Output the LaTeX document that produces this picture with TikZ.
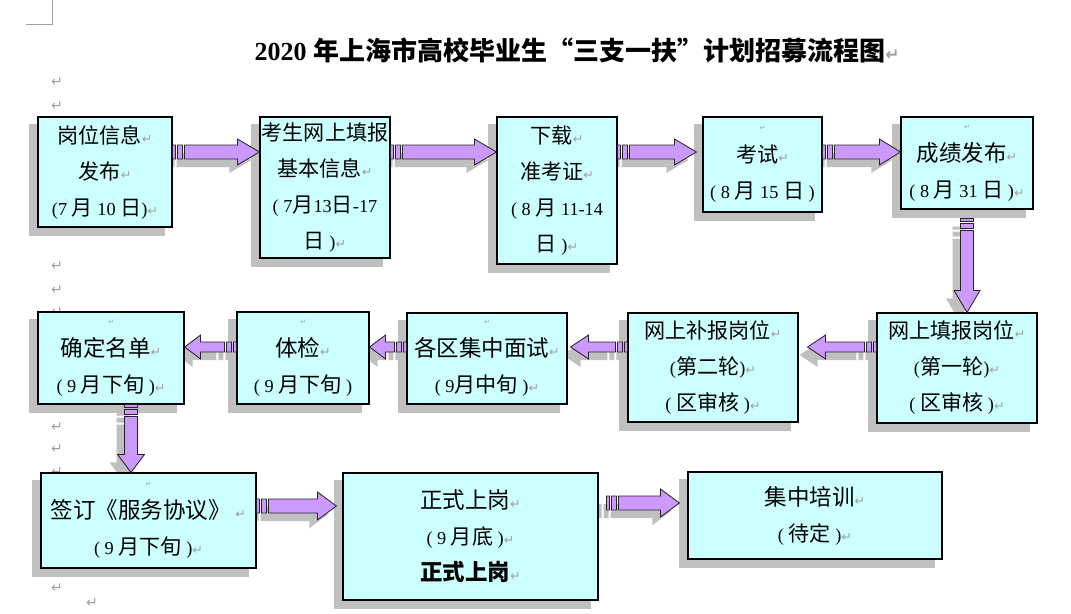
\documentclass[tikz,border=0pt]{standalone}
\usepackage{fontspec}
\setmainfont{Liberation Serif}
\newfontfamily\cjk{Noto Sans CJK SC}
\newfontfamily\markfont{DejaVu Sans}
\usetikzlibrary{calc}

\definecolor{boxcyan}{HTML}{CCFFFF}
\definecolor{arrowpurple}{HTML}{CC99FF}
\definecolor{shadegray}{HTML}{C0C0C0}
\definecolor{markgray}{HTML}{A0A0A0}

\pgfdeclarelayer{background}
\pgfsetlayers{background,main}

\newcommand\px{0.025cm}
\newcommand\rt[1][9]{{\markfont\fontsize{#1}{#1}\selectfont\textcolor{markgray}{↵}}}
\newcommand\lat[1]{{\rmfamily\fontsize{13}{25.6}\selectfont #1}}
\newcommand\hd{\fontsize{16}{25.6}\selectfont}

% striped block arrow: tail, tip, shaft half width, head half width, head length
\newcommand\stripearrow[5]{%
  \coordinate (t0) at (#1);
  \coordinate (t1) at (#2);
  \foreach \d in {0,3,5,10,12} {
    \coordinate (p\d) at ($(t0)!{\d*\px}!(t1)$);
    \coordinate (sa\d) at ($(p\d)!{#3*\px}!90:(t1)$);
    \coordinate (sb\d) at ($(p\d)!{#3*\px}!-90:(t1)$);
  }
  \coordinate (hb) at ($(t1)!{#5*\px}!(t0)$);
  \coordinate (sah) at ($(hb)!{#3*\px}!90:(t1)$);
  \coordinate (sbh) at ($(hb)!{#3*\px}!-90:(t1)$);
  \coordinate (ha) at ($(hb)!{#4*\px}!90:(t1)$);
  \coordinate (hc) at ($(hb)!{#4*\px}!-90:(t1)$);
  \begin{pgfonlayer}{background}
    \fill[arrowshade] (sa0) -- (sa3) -- (sb3) -- (sb0) -- cycle
      (sa5) -- (sa10) -- (sb10) -- (sb5) -- cycle
      (sa12) -- (sah) -- (ha) -- (t1) -- (hc) -- (sbh) -- (sb12) -- cycle;
  \end{pgfonlayer}
  \filldraw[arrowbody] (sa0) -- (sa3) -- (sb3) -- (sb0) -- cycle
    (sa5) -- (sa10) -- (sb10) -- (sb5) -- cycle
    (sa12) -- (sah) -- (ha) -- (t1) -- (hc) -- (sbh) -- (sb12) -- cycle;
}

\begin{document}
\begin{tikzpicture}[x=0.025cm, y=-0.025cm,
  box/.style={draw=black, line width=0.8pt, fill=boxcyan, inner sep=0pt, align=center,
    font=\cjk\fontsize{15}{25.6}\selectfont},
  arrowbody/.style={draw=black!85, line width=0.6pt, fill=arrowpurple},
  arrowshade/.style={fill=shadegray, transform canvas={shift={(-8,8)}}},
  retmark/.style={inner sep=0pt}]
\useasboundingbox (0,0) rectangle (1071,613);

% paragraph marks of the page
\begin{pgfonlayer}{background}
\foreach \y in {82,106,266,290,312,405,427,449,472,588}
  \node[retmark] (left\y) at (57,\y) {\rt[10]};
\node[retmark] (leftlast) at (92,603) {\rt[10]};
\draw[markgray, line width=0.6pt] (52,0) -- (52,24) -- (26,24);
\end{pgfonlayer}

\node[font=\cjk\bfseries\fontsize{18.5}{22}\selectfont] (title) at (577,50)
  {{\rmfamily 2020 }年上海市高校毕业生“三支一扶”计划招募流程图\rt[12]};

% first row
\node[box, minimum width=134*\px, minimum height=110*\px] (post) at (105,172)
  {岗位信息\rt\\发布\rt\\\lat{(7 }月\lat{ 10 }日\lat{)}\rt};
\node[box, minimum width=130*\px, minimum height=141*\px] (apply) at (325,187.5)
  {考生网上填报\\基本信息\rt\\\lat{( 7}月\lat{13}日\lat{-17}\\日\lat{ )}\rt};
\node[box, minimum width=120*\px, minimum height=147*\px] (ticket) at (557,190.5)
  {下载\rt\\准考证\rt\\\lat{( 8 }月\lat{ 11-14}\\日\lat{ )}\rt};
\node[box, minimum width=119*\px, minimum height=95*\px] (exam) at (762.5,164.5)
  {\rt[5]\\[-3pt]考试\rt\\\lat{( 8 }月\lat{ 15 }日\lat{ )}};
\node[box, minimum width=132*\px, minimum height=92*\px] (score) at (967,163)
  {\rt[5]\\[-3pt]{\hd 成绩发布}\rt\\\lat{( 8 }月\lat{ 31 }日\lat{ )}\rt};

% second row
\node[box, minimum width=160*\px, minimum height=110*\px] (fill1) at (957,368)
  {网上填报岗位\rt\\\lat{(}第一轮\lat{)}\rt\\\lat{( }区审核\lat{ )}\rt};
\node[box, minimum width=170*\px, minimum height=109*\px] (fill2) at (713,367.5)
  {网上补报岗位\rt\\\lat{(}第二轮\lat{)}\rt\\\lat{( }区审核\lat{ )}\rt};
\node[box, minimum width=160*\px, minimum height=91*\px] (interview) at (487,358.5)
  {\rt[5]\\[-3pt]{\hd 各区集中面试}\rt\\\lat{( 9}月中旬\lat{ )}\rt};
\node[box, minimum width=132*\px, minimum height=92*\px] (health) at (303,358)
  {\rt[5]\\[-3pt]{\hd 体检}\rt\\\lat{( 9 }月下旬\lat{ )}};
\node[box, minimum width=146*\px, minimum height=92*\px] (namelist) at (111,358)
  {\rt[5]\\[-3pt]{\hd 确定名单}\rt\\\lat{( 9 }月下旬\lat{ )}\rt};

% third row
\node[box, minimum width=215*\px, minimum height=95*\px] (sign) at (148.5,520.5)
  {\rt[5]\\[-3pt]{\hd 签订《服务协议》}\lat{ }\rt\\\lat{( 9 }月下旬\lat{ )}\rt};
\node[box, minimum width=255*\px, minimum height=127*\px] (onduty) at (470.5,536.5)
  {{\hd 正式上岗}\rt\\\lat{( 9 }月底\lat{ )}\rt\\{\hd\bfseries 正式上岗}\rt};
\node[box, minimum width=254*\px, minimum height=87*\px] (train) at (815,515.5)
  {{\hd 集中培训}\rt\\\lat{( }待定\lat{ )}\rt};

% box shadows
\begin{pgfonlayer}{background}
\foreach \b in {post,apply,ticket,exam,score,fill1,fill2,interview,health,namelist,sign,onduty,train}
  \fill[shadegray] ($(\b.south west)+(-8,8)$) rectangle ($(\b.north east)+(-8,8)$);
\end{pgfonlayer}

% arrows
\coordinate (r1) at (0,152);
\coordinate (r2) at (0,347);
\coordinate (r3) at (0,506);
\coordinate (r4) at (0,503);
\coordinate (d2) at ($(namelist.south)+(20,0)$);
\coordinate (d1) at ($(score.south)+(0,9)$);

\stripearrow{post.east |- r1}{apply.west |- r1}{7}{13}{22}
\stripearrow{apply.east |- r1}{ticket.west |- r1}{7}{13}{22}
\stripearrow{ticket.east |- r1}{$(exam.west |- r1)+(-6,0)$}{7}{13}{22}
\stripearrow{exam.east |- r1}{score.west |- r1}{7}{13}{21}
\stripearrow{d1}{d1 |- fill1.north}{6.5}{13}{22}
\stripearrow{fill1.west |- r2}{$(fill2.east |- r2)+(9,0)$}{5}{12}{18}
\stripearrow{fill2.west |- r2}{$(interview.east |- r2)+(3,0)$}{5}{12}{18}
\stripearrow{interview.west |- r2}{health.east |- r2}{5}{12}{16}
\stripearrow{health.west |- r2}{namelist.east |- r2}{5}{12}{16}
\stripearrow{d2}{d2 |- sign.north}{6.5}{13.5}{18}
\stripearrow{sign.east |- r3}{$(onduty.west |- r3)+(-6,0)$}{7}{14}{19}
\stripearrow{$(onduty.east |- r4)+(8,0)$}{$(train.west |- r4)+(-8,0)$}{7}{14}{19}
\end{tikzpicture}
\end{document}
